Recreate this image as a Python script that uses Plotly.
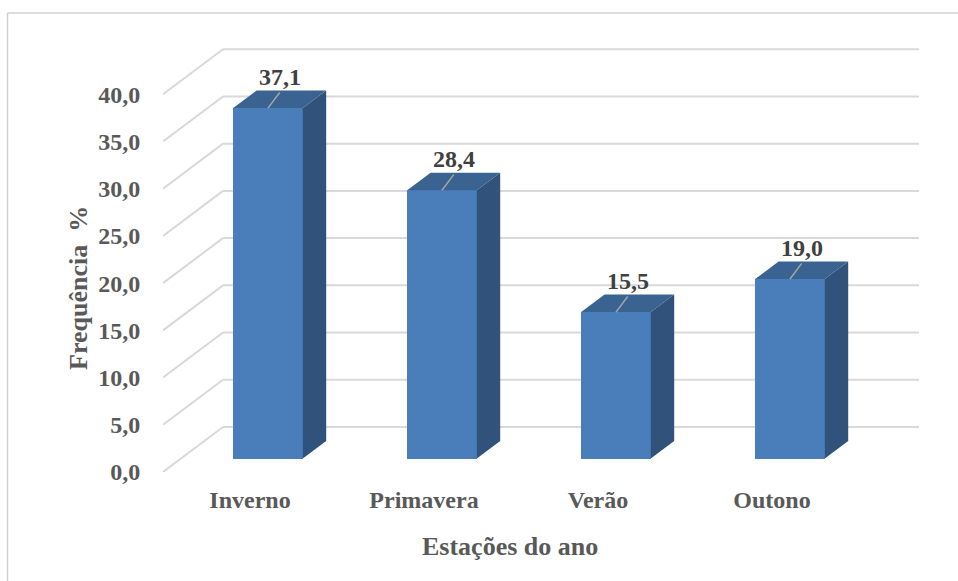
import plotly.graph_objects as go

# Chart data
seasons = ["Inverno", "Primavera", "Verão", "Outono"]
freq = [37.1, 28.4, 15.5, 19.0]
y_ticks = [0, 5, 10, 15, 20, 25, 30, 35, 40]

# Figure size and plot-area margins (pixels)
W, H = 958, 581
ML, MR, MT, MB = 163, 39, 47, 109
PW, PH = W - ML - MR, H - MT - MB

# Oblique projection of the 3D column chart:
# a point at depth d (0 = front plane, 1 = back wall) is shifted by d*DX, d*DY
Y_TOP = 45.0
X_LO = -0.5
DY = 45.0 * Y_TOP / PH          # back wall sits 45 px higher than the front edge
X_HI = 3.5 + 0.3448             # room for the back wall on the right
DX = 60.0 * (X_HI - X_LO) / PW  # and 60 px to the right
D0, D1 = 0.30, 0.69             # depth span occupied by the columns
BAR_W = 0.40

FRONT = "#4A7EBB"
TOP = "#3A6391"
SIDE = "#30527B"
GRID = "#D9D9D9"
FONT = "Liberation Serif, Times New Roman, serif"


def fmt(v):
    return f"{v:.1f}".replace(".", ",")


def paper_x(px):
    return (px - ML) / PW


def paper_y(py):
    return (H - MB - py) / PH


fig = go.Figure()

# Gridlines: a diagonal on the left side wall plus a horizontal line on the back wall
shapes = []
for v in y_ticks:
    shapes.append(dict(type="line", xref="x", yref="y", layer="below",
                       x0=X_LO, y0=v, x1=X_LO + DX, y1=v + DY,
                       line=dict(color=GRID, width=2)))
    shapes.append(dict(type="line", xref="x", yref="y", layer="below",
                       x0=X_LO + DX, y0=v + DY, x1=X_HI, y1=v + DY,
                       line=dict(color=GRID, width=2)))

# Chart border
shapes.append(dict(type="line", xref="paper", yref="paper",
                   x0=paper_x(7.5), y0=paper_y(13), x1=paper_x(W + 5), y1=paper_y(13),
                   line=dict(color="#D0D0D0", width=1.5)))
shapes.append(dict(type="line", xref="paper", yref="paper",
                   x0=paper_x(7.5), y0=paper_y(13), x1=paper_x(7.5), y1=paper_y(H + 5),
                   line=dict(color="#D0D0D0", width=1.5)))

# Front faces of the columns
xf = [i + D0 * DX for i in range(len(seasons))]
fig.add_trace(go.Bar(
    x=xf, y=freq, base=[D0 * DY] * len(freq), width=BAR_W,
    marker=dict(color=FRONT, line=dict(width=0)),
    hoverinfo="skip", showlegend=False,
))

annotations = []
for i, v in enumerate(freq):
    xl = xf[i] - BAR_W / 2
    xr = xf[i] + BAR_W / 2
    ddx = (D1 - D0) * DX
    ddy = (D1 - D0) * DY
    yb = D0 * DY
    yt = v + D0 * DY
    # right side face
    fig.add_trace(go.Scatter(
        x=[xr, xr + ddx, xr + ddx, xr, xr],
        y=[yb, yb + ddy, yt + ddy, yt, yb],
        mode="lines", fill="toself", fillcolor=SIDE,
        line=dict(width=0, color=SIDE), hoverinfo="skip", showlegend=False,
    ))
    # top face
    fig.add_trace(go.Scatter(
        x=[xl, xr, xr + ddx, xl + ddx, xl],
        y=[yt, yt, yt + ddy, yt + ddy, yt],
        mode="lines", fill="toself", fillcolor=TOP,
        line=dict(width=0, color=TOP), hoverinfo="skip", showlegend=False,
    ))
    # leader line from the top face to the value label
    xm = xf[i] + ddx / 2
    fig.add_trace(go.Scatter(
        x=[xf[i], xm], y=[yt, yt + ddy - 0.2],
        mode="lines", line=dict(color="#A6A6A6", width=1.5),
        hoverinfo="skip", showlegend=False,
    ))
    annotations.append(dict(
        x=xm, y=yt + ddy, xref="x", yref="y", text=fmt(v),
        showarrow=False, xanchor="center", yanchor="bottom", yshift=-1,
        font=dict(family=FONT, size=24, color="#404040", weight="bold"),
    ))

# Axis titles
annotations.append(dict(
    x=paper_x(510), y=paper_y(546), xref="paper", yref="paper",
    xanchor="center", yanchor="middle",
    text="Estações do ano", showarrow=False,
    font=dict(family=FONT, size=26, color="#595959", weight="bold"),
))
annotations.append(dict(
    x=paper_x(78), y=paper_y(288), xref="paper", yref="paper",
    xanchor="center", yanchor="middle",
    text="Frequência  %", showarrow=False, textangle=-90,
    font=dict(family=FONT, size=26, color="#595959", weight="bold"),
))

fig.update_layout(
    width=W, height=H,
    margin=dict(l=ML, r=MR, t=MT, b=MB, pad=0),
    paper_bgcolor="white", plot_bgcolor="white",
    shapes=shapes, annotations=annotations,
    bargap=0,
    xaxis=dict(
        range=[X_LO, X_HI], tickvals=list(range(len(seasons))), ticktext=seasons,
        showgrid=False, zeroline=False, showline=False,
        ticks="outside", ticklen=6, tickcolor="rgba(0,0,0,0)",
        tickfont=dict(family=FONT, size=24, color="#595959", weight="bold"),
        fixedrange=True,
    ),
    yaxis=dict(
        range=[0, Y_TOP], tickvals=y_ticks, ticktext=[fmt(t) for t in y_ticks],
        showgrid=False, zeroline=False, showline=False,
        ticks="outside", ticklen=17, tickcolor="rgba(0,0,0,0)",
        tickfont=dict(family=FONT, size=24, color="#595959", weight="bold"),
        fixedrange=True,
    ),
)

fig.write_html("out.html")
